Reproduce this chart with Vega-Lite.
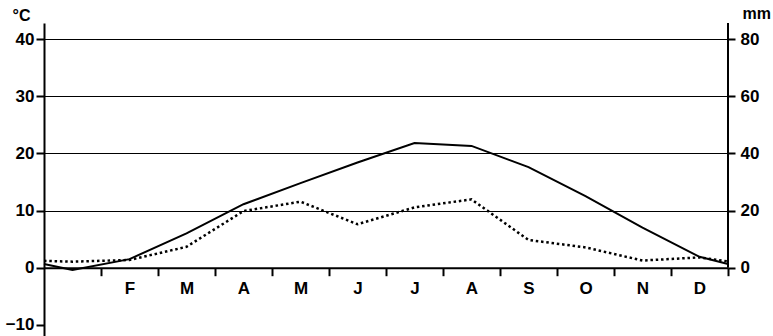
{
  "$schema": "https://vega.github.io/schema/vega-lite/v6.json",
  "width": 684,
  "height": 313,
  "autosize": {"type": "none"},
  "padding": {"left": 44, "top": 23, "right": 45, "bottom": 0},
  "background": "white",
  "config": {
    "view": {"stroke": null},
    "axis": {
      "labelFont": "Liberation Sans",
      "labelFontWeight": "bold",
      "labelFontSize": 17,
      "labelColor": "black",
      "titleFont": "Liberation Sans",
      "titleFontWeight": "bold",
      "titleFontSize": 16,
      "titleColor": "black",
      "domainColor": "black",
      "tickColor": "black",
      "gridColor": "black"
    }
  },
  "data": {
    "values": [
      {"month": 0, "temp": 0.65, "precip": 2.4},
      {"month": 0.5, "temp": -0.4, "precip": 2.1},
      {"month": 1.5, "temp": 1.5, "precip": 2.7},
      {"month": 2.5, "temp": 6.0, "precip": 7.3},
      {"month": 3.5, "temp": 11.1, "precip": 19.8},
      {"month": 4.5, "temp": 14.8, "precip": 23.1},
      {"month": 5.5, "temp": 18.4, "precip": 15.2},
      {"month": 6.5, "temp": 21.8, "precip": 21.1},
      {"month": 7.5, "temp": 21.3, "precip": 23.9},
      {"month": 8.5, "temp": 17.6, "precip": 9.7},
      {"month": 9.5, "temp": 12.5, "precip": 7.1},
      {"month": 10.5, "temp": 7.0, "precip": 2.5},
      {"month": 11.5, "temp": 1.9, "precip": 3.6},
      {"month": 12, "temp": 0.65, "precip": 2.2}
    ]
  },
  "layer": [
    {
      "mark": {"type": "line", "color": "black", "strokeWidth": 2},
      "encoding": {
        "x": {
          "field": "month",
          "type": "quantitative",
          "scale": {"domain": [0, 12], "nice": false, "zero": false},
          "axis": {
            "orient": "bottom",
            "offset": -68.3,
            "values": [1, 2, 3, 4, 5, 6, 7, 8, 9, 10, 11, 12],
            "tickSize": 8,
            "tickWidth": 2,
            "domainWidth": 2,
            "labelExpr": "['J','F','M','A','M','J','J','A','S','O','N','D',''][datum.value]",
            "labelOffset": 28.5,
            "labelPadding": 5,
            "labelFlush": false,
            "labelOverlap": false,
            "grid": false,
            "title": null
          }
        },
        "y": {
          "field": "temp",
          "type": "quantitative",
          "scale": {"domain": [-11.95, 42.8], "nice": false, "zero": false},
          "axis": {
            "orient": "left",
            "values": [-10, 0, 10, 20, 30, 40],
            "tickSize": 8,
            "tickWidth": 2,
            "domainWidth": 2,
            "labelPadding": 2,
            "grid": true,
            "gridWidth": 1.2,
            "gridOpacity": {"condition": {"test": "datum.value <= 0", "value": 0}, "value": 1},
            "title": "°C",
            "titleAngle": 0,
            "titleAlign": "left",
            "titleBaseline": "alphabetic",
            "titleX": -32,
            "titleY": -3
          }
        }
      }
    },
    {
      "layer": [
        {
          "mark": {"type": "line", "color": "black", "strokeWidth": 2.5, "strokeDash": [2.5, 2.8]},
          "encoding": {
            "x": {"field": "month", "type": "quantitative"},
            "y": {
              "field": "precip",
              "type": "quantitative",
              "scale": {"domain": [-23.9, 85.6], "nice": false, "zero": false},
              "axis": {
                "orient": "right",
                "values": [0, 20, 40, 60, 80],
                "domain": false,
                "tickSize": 7,
                "tickWidth": 2,
                "labelPadding": 5,
                "grid": false,
                "title": "mm",
                "titleAngle": 0,
                "titleAlign": "left",
                "titleBaseline": "alphabetic",
                "titleX": 14,
                "titleY": -5
              }
            }
          }
        },
        {
          "transform": [{"filter": "datum.month == 12"}],
          "mark": {"type": "rule", "color": "black", "strokeWidth": 2},
          "encoding": {
            "x": {"field": "month", "type": "quantitative"},
            "y": {"datum": 0},
            "y2": {"datum": 85.6}
          }
        }
      ]
    }
  ],
  "resolve": {"scale": {"y": "independent"}}
}
